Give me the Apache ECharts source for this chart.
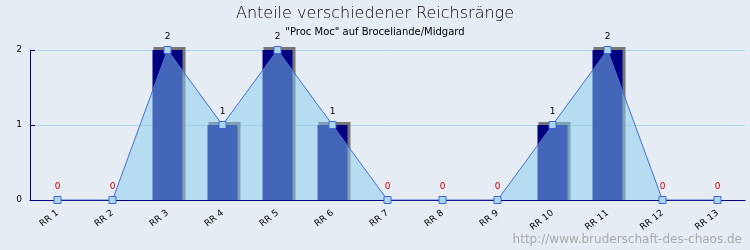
<!DOCTYPE html>
<html><head><meta charset="utf-8">
<script src="https://cdn.jsdelivr.net/npm/echarts@6/dist/echarts.min.js"></script>
<style>html,body{margin:0;padding:0;background:#e5ecf3}#c{width:750px;height:250px}</style>
</head><body><div id="c"></div>
<script>
var categories = ['RR 1','RR 2','RR 3','RR 4','RR 5','RR 6','RR 7','RR 8','RR 9','RR 10','RR 11','RR 12','RR 13'];
var counts = [0,0,2,1,2,1,0,0,0,1,2,0,0];
var yTicks = [0,1,2];
var titleText = 'Anteile verschiedener Reichsränge';
var subtitleText = '"Proc Moc" auf Broceliande/Midgard';
var watermark = 'http://www.bruderschaft-des-chaos.de';

var chart = echarts.init(document.getElementById('c'), null, {renderer:'canvas'});
var lineData = counts.map(function(v){ return {value:v, label:{color: v===0 ? '#cc0000' : '#000000'}}; });
var barData = counts.map(function(v,i){ return [i, v]; });
var BW = 30, DEPTH = 3;
function renderBar(params, api){
  var v = api.value(1);
  if (!v) return null;
  var top = api.coord([api.value(0), v]);
  var base = api.coord([api.value(0), 0]);
  var left = top[0] - BW/2;
  return {type:'group', children:[
    {type:'rect', shape:{x:left+1, y:top[1]-DEPTH, width:BW+DEPTH-1, height:base[1]-top[1]+DEPTH}, style:{fill:'#777777'}},
    {type:'rect', shape:{x:left, y:top[1], width:BW, height:base[1]-top[1]}, style:{fill:'#000080'}}
  ]};
}
chart.setOption({
  backgroundColor:'#e5ecf3',
  animation:false,
  title:[
    {text:titleText, left:'center', top:1, textStyle:{fontFamily:'DejaVu Sans', fontWeight:200, fontSize:16, color:'#000'}},
    {text:subtitleText, left:'center', top:22, textStyle:{fontFamily:'DejaVu Sans', fontWeight:'normal', fontSize:10, color:'#000'}}
  ],
  graphic:[{type:'text', right:8, bottom:4, style:{text:watermark, font:'12px "DejaVu Sans"', fill:'#aaaaaa'}}],
  grid:{left:30, right:5, top:50, bottom:50},
  xAxis:{type:'category', data:categories, boundaryGap:true,
    axisLine:{lineStyle:{color:'#000080', width:1}},
    axisTick:{inside:true, length:5, lineStyle:{color:'#000080'}},
    axisLabel:{rotate:38, fontFamily:'DejaVu Sans', fontSize:9, color:'#000', margin:12}},
  yAxis:{type:'value', min:yTicks[0], max:yTicks[yTicks.length-1], interval:1,
    axisLine:{show:true, lineStyle:{color:'#000080'}},
    axisTick:{show:true, inside:true, length:5, lineStyle:{color:'#000080'}},
    axisLabel:{fontFamily:'DejaVu Sans', fontSize:9, color:'#000', margin:8},
    splitLine:{lineStyle:{color:'#a8d8e8'}}},
  series:[
    {type:'custom', data:barData, renderItem:renderBar, encode:{x:0, y:1}, z:1},
    {type:'line', data:lineData, symbol:'rect', symbolSize:7, z:3,
      lineStyle:{color:'#4a6ed0', width:1},
      itemStyle:{color:'#a8d8ec', borderColor:'#4466dd', borderWidth:1},
      areaStyle:{color:'rgba(136,204,240,0.5)', opacity:1},
      label:{show:true, position:'top', distance:5, fontFamily:'DejaVu Sans', fontSize:9}}
  ]
});
</script></body></html>
